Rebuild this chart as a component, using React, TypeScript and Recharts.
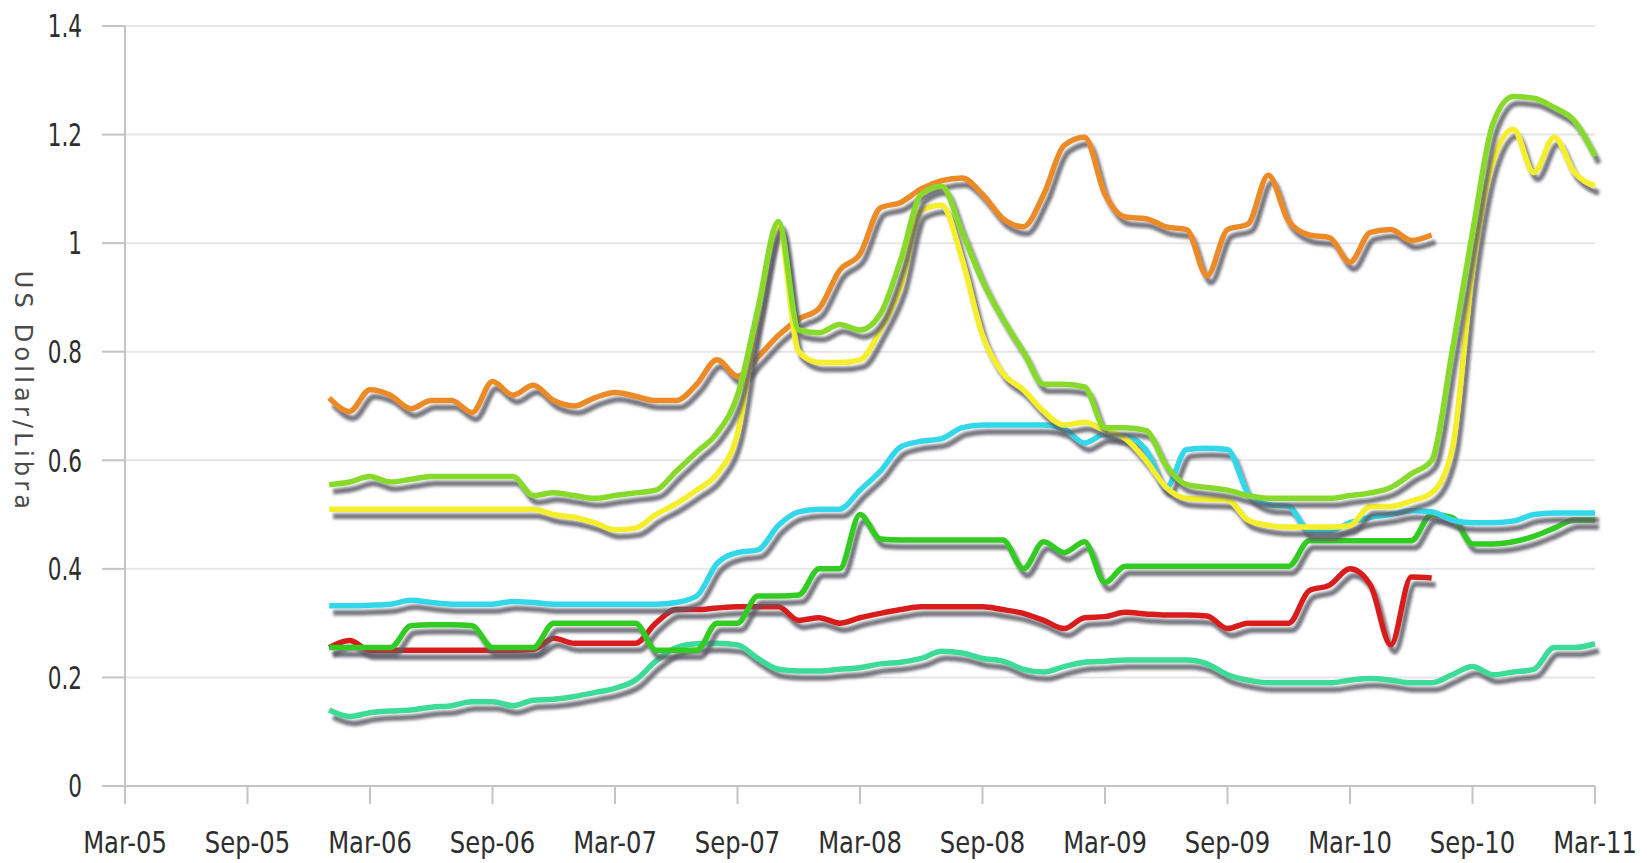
import { LineChart, Line, XAxis, YAxis, CartesianGrid } from "recharts";

// month index: 0 = Mar-05, 72 = Mar-11
const X_TICKS = [0, 6, 12, 18, 24, 30, 36, 42, 48, 54, 60, 66, 72];
const X_LABELS = ["Mar-05", "Sep-05", "Mar-06", "Sep-06", "Mar-07", "Sep-07", "Mar-08", "Sep-08", "Mar-09", "Sep-09", "Mar-10", "Sep-10", "Mar-11"];
const Y_TICKS = [0, 0.2, 0.4, 0.6, 0.8, 1, 1.2, 1.4];
const Y_LABELS = ["0", "0.2", "0.4", "0.6", "0.8", "1", "1.2", "1.4"];

const START = 10; // Jan-06

// Jan-06 .. Jul-10
const orange = [
  0.715, 0.69, 0.73, 0.72, 0.695, 0.71, 0.71, 0.688, 0.745, 0.72,
  0.738, 0.71, 0.7, 0.715, 0.725, 0.718, 0.71, 0.71, 0.74, 0.785,
  0.755, 0.79, 0.83, 0.86, 0.88, 0.95, 0.98, 1.065, 1.075, 1.1,
  1.115, 1.12, 1.09, 1.045, 1.03, 1.09, 1.18, 1.195, 1.09, 1.048,
  1.045, 1.03, 1.025, 0.94, 1.025, 1.035, 1.125, 1.04, 1.015, 1.01,
  0.965, 1.02, 1.025, 1.005, 1.015,
];

// Jan-06 .. Mar-11
const lime = [
  0.555, 0.56, 0.57, 0.56, 0.565, 0.57, 0.57, 0.57, 0.57, 0.57,
  0.535, 0.54, 0.535, 0.53, 0.535, 0.54, 0.545, 0.58, 0.615, 0.65,
  0.72, 0.88, 1.04, 0.84, 0.835, 0.85, 0.84, 0.87, 0.97, 1.09,
  1.105, 1.02, 0.93, 0.86, 0.8, 0.74, 0.74, 0.735, 0.66, 0.66,
  0.655, 0.59, 0.555, 0.55, 0.545, 0.535, 0.53, 0.53, 0.53, 0.53,
  0.535, 0.54, 0.55, 0.575, 0.6, 0.8, 1.02, 1.22, 1.27, 1.267,
  1.25, 1.225, 1.16,
];

const yellow = [
  0.51, 0.51, 0.51, 0.51, 0.51, 0.51, 0.51, 0.51, 0.51, 0.51,
  0.51, 0.5, 0.495, 0.485, 0.472, 0.475, 0.5, 0.52, 0.545, 0.575,
  0.65, 0.87, 1.03, 0.8, 0.78, 0.78, 0.785, 0.84, 0.92, 1.06,
  1.07, 0.97, 0.83, 0.76, 0.73, 0.69, 0.665, 0.67, 0.655, 0.64,
  0.6, 0.55, 0.53, 0.528, 0.527, 0.49, 0.48, 0.477, 0.477, 0.477,
  0.48, 0.515, 0.515, 0.525, 0.54, 0.62, 0.95, 1.15, 1.21, 1.13,
  1.195, 1.13, 1.105,
];

const cyan = [
  0.332, 0.332, 0.333, 0.335, 0.342, 0.338, 0.335, 0.335, 0.335, 0.34,
  0.338, 0.335, 0.335, 0.335, 0.335, 0.335, 0.335, 0.338, 0.35, 0.41,
  0.43, 0.435, 0.48, 0.505, 0.51, 0.51, 0.545, 0.58, 0.625, 0.635,
  0.64, 0.66, 0.665, 0.665, 0.665, 0.665, 0.658, 0.632, 0.648, 0.645,
  0.62, 0.55, 0.62, 0.622, 0.62, 0.54, 0.518, 0.515, 0.47, 0.47,
  0.485, 0.495, 0.5, 0.507, 0.505, 0.49, 0.485, 0.485, 0.488, 0.5,
  0.503, 0.503, 0.503,
];

const green = [
  0.255, 0.255, 0.255, 0.255, 0.295, 0.297, 0.297, 0.295, 0.255, 0.255,
  0.255, 0.3, 0.3, 0.3, 0.3, 0.3, 0.25, 0.25, 0.25, 0.3,
  0.3, 0.35, 0.35, 0.352, 0.4, 0.4, 0.5, 0.455, 0.453, 0.453,
  0.453, 0.453, 0.453, 0.453, 0.4, 0.45, 0.43, 0.45, 0.375, 0.405,
  0.405, 0.405, 0.405, 0.405, 0.405, 0.405, 0.405, 0.405, 0.452, 0.452,
  0.452, 0.452, 0.452, 0.452, 0.5, 0.495, 0.446, 0.446, 0.45, 0.46,
  0.475, 0.49, 0.49,
];

// Jan-06 .. Jul-10
const red = [
  0.255, 0.268, 0.25, 0.25, 0.25, 0.25, 0.25, 0.25, 0.25, 0.25,
  0.252, 0.272, 0.263, 0.263, 0.263, 0.263, 0.3, 0.325, 0.325, 0.328,
  0.33, 0.33, 0.33, 0.305, 0.31, 0.3, 0.31, 0.318, 0.325, 0.33,
  0.33, 0.33, 0.33, 0.325, 0.318, 0.305, 0.29, 0.31, 0.312, 0.32,
  0.317, 0.315, 0.315, 0.313, 0.29, 0.3, 0.3, 0.3, 0.36, 0.37,
  0.4, 0.37, 0.26, 0.385, 0.383,
];

const teal = [
  0.14, 0.128, 0.135, 0.138, 0.14, 0.145, 0.148, 0.155, 0.155, 0.148,
  0.158, 0.16, 0.165, 0.172, 0.18, 0.195, 0.23, 0.255, 0.262, 0.263,
  0.26, 0.235, 0.215, 0.212, 0.212, 0.215, 0.218, 0.225, 0.228, 0.235,
  0.248, 0.245, 0.235, 0.23, 0.215, 0.21, 0.22, 0.228, 0.23, 0.232,
  0.232, 0.232, 0.232, 0.225, 0.205, 0.195, 0.19, 0.19, 0.19, 0.19,
  0.195, 0.198, 0.195, 0.19, 0.19, 0.205, 0.22, 0.205, 0.21, 0.215,
  0.255, 0.255, 0.262,
];

const SERIES = [
  { key: "orange", values: orange, color: "#ec8a28" },
  { key: "teal", values: teal, color: "#3cdb98" },
  { key: "red", values: red, color: "#d81f1c" },
  { key: "green", values: green, color: "#30cb24" },
  { key: "cyan", values: cyan, color: "#33d8ea" },
  { key: "yellow", values: yellow, color: "#f4ef2a" },
  { key: "lime", values: lime, color: "#88da2c" },
];

const data = Array.from({ length: 72 - START + 1 }, (_, i) => {
  const row: Record<string, number | null> = { m: START + i };
  SERIES.forEach((s) => {
    row[s.key] = i < s.values.length ? s.values[i] : null;
  });
  return row;
});

const FONT = "'DejaVu Sans Condensed', 'DejaVu Sans', sans-serif";
const TEXT = "#2e2e2e";

// the source picture is stretched vertically, so the tick text is too
function XTick({ x, y, payload }: any) {
  return (
    <g transform={`translate(${x},${y})`}>
      <text transform="scale(1,1.12)" textAnchor="middle" dy="0.71em" fill={TEXT} fontSize={27} fontFamily={FONT}>
        {X_LABELS[Math.round(payload.value / 6)]}
      </text>
    </g>
  );
}

function YTick({ x, y, payload }: any) {
  return (
    <g transform={`translate(${x},${y})`}>
      <text transform="scale(1,1.3)" textAnchor="end" dy="0.36em" fill={TEXT} fontSize={24} fontFamily={FONT}>
        {Y_LABELS[Math.round(payload.value / 0.2)]}
      </text>
    </g>
  );
}

export default function App() {
  return (
    <div style={{ position: "absolute", left: 0, top: 0, width: 1647, height: 863, background: "#fff" }}>
      <style>{`.recharts-line-curve { filter: url(#lineShadow); }`}</style>
      <svg width={0} height={0} style={{ position: "absolute" }}>
        <defs>
          <filter id="lineShadow" filterUnits="userSpaceOnUse" x={0} y={0} width={1647} height={863}>
            <feDropShadow dx={4} dy={7} stdDeviation={1.4} floodColor="#5c5c66" floodOpacity={0.85} />
          </filter>
        </defs>
      </svg>
      <LineChart width={1647} height={863} data={data} margin={{ top: 26, right: 52, bottom: 0, left: 0 }}>
        <CartesianGrid vertical={false} stroke="#e6e6e6" strokeWidth={2} />
        <XAxis
          dataKey="m"
          type="number"
          domain={[0, 72]}
          ticks={X_TICKS}
          interval={0}
          height={77}
          tickSize={18}
          tickMargin={28}
          stroke="#c4c4c4"
          strokeWidth={2}
          tick={<XTick />}
        />
        <YAxis
          type="number"
          domain={[0, 1.4]}
          ticks={Y_TICKS}
          interval={0}
          width={125}
          tickSize={23}
          tickMargin={20}
          stroke="#c4c4c4"
          strokeWidth={2}
          tick={<YTick />}
          label={{
            value: "US Dollar/Libra",
            angle: 90,
            position: "center",
            dx: -39,
            dy: -14,
            style: { fill: "#4a4a4a", fontSize: 24, letterSpacing: 4.2, fontFamily: "'DejaVu Sans', sans-serif" },
          }}
        />
        {SERIES.map((s) => (
          <Line
            key={s.key}
            dataKey={s.key}
            type="monotone"
            stroke={s.color}
            strokeWidth={5.5}
            dot={false}
            connectNulls={false}
            isAnimationActive={false}
          />
        ))}
      </LineChart>
    </div>
  );
}
